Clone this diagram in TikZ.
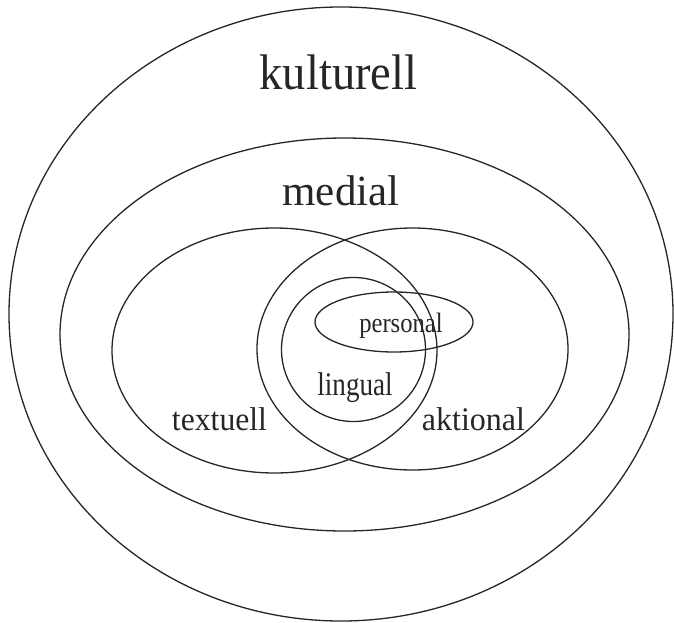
\documentclass[tikz,border=0pt]{standalone}
\usepackage{fontspec}
\setmainfont{Liberation Serif}
\usetikzlibrary{shapes.geometric}
\tikzset{
  ring/.style={ellipse, draw=black!85, line width=1.3pt, inner sep=0pt, outer sep=0pt},
  lbl/.style={anchor=base, inner sep=0pt, text=black!85}
}
\begin{document}
\begin{tikzpicture}[x=1pt,y=-1pt]
\useasboundingbox (0,0) rectangle (674,623);
% ellipses
\node[ring, minimum width=664pt, minimum height=614pt] (kult) at (341,314) {};
\node[ring, minimum width=569pt, minimum height=393pt] (med) at (344.5,334.5) {};
\node[ring, minimum width=325pt, minimum height=245pt] (text) at (274.5,350.5) {};
\node[ring, minimum width=311pt, minimum height=242pt] (akt) at (412.5,349) {};
\node[ring, minimum width=144pt, minimum height=144pt] (ling) at (353.5,349.5) {};
\node[ring, minimum width=158pt, minimum height=60pt] (pers) at (394,322) {};
% labels
\node[lbl, font=\fontsize{50}{60}\selectfont, xscale=0.93] (tkult) at (338.5,90) {kulturell};
\node[lbl, font=\fontsize{43}{50}\selectfont] (tmed) at (341,205) {medial};
\node[lbl, font=\fontsize{33}{40}\selectfont, xscale=0.96] (ttext) at (219.5,430) {textuell};
\node[lbl, font=\fontsize{33}{40}\selectfont, xscale=0.97] (takt) at (473.5,430) {aktional};
\node[lbl, font=\fontsize{33}{40}\selectfont, xscale=0.82] (tling) at (355,395) {lingual};
\node[lbl, font=\fontsize{28}{34}\selectfont, xscale=0.88] (tpers) at (401,332) {personal};
\end{tikzpicture}
\end{document}
